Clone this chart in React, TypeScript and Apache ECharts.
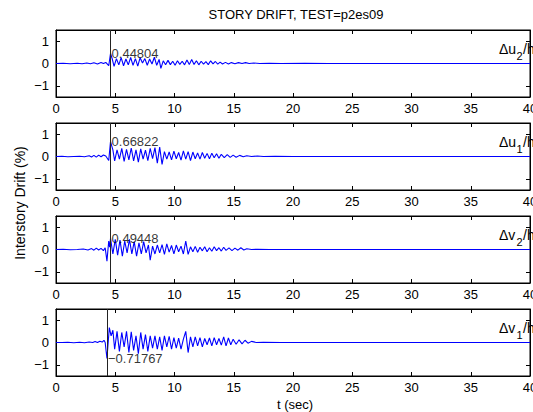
import React, { useEffect, useRef } from 'react';
import * as echarts from 'echarts';

// Story drift time histories [t (sec), drift (%)]
const driftU2: [number, number][] = [
  [0, 0], [0.6, 0.01], [1.2, -0.01], [1.8, 0.01], [2.2, -0.01], [2.6, 0.02], [2.9, -0.01], [3.2, 0.03],
  [3.5, -0.02], [3.8, 0.05], [4.0, 0.0], [4.2, 0.05], [4.45, -0.1], [4.6, 0.44804], [4.75, 0.2], [4.9, -0.13],
  [5.1, 0.22], [5.3, -0.06], [5.5, 0.26], [5.7, -0.1], [5.9, 0.2], [6.1, -0.06], [6.3, 0.27], [6.5, -0.08],
  [6.7, 0.22], [6.9, -0.12], [7.1, 0.26], [7.3, 0.02], [7.5, 0.22], [7.7, -0.08], [7.9, 0.2], [8.1, -0.02],
  [8.3, 0.28], [8.5, -0.08], [8.7, 0.18], [8.85, -0.22], [9.05, 0.12], [9.25, -0.06], [9.45, 0.14], [9.65, -0.05],
  [9.85, 0.1], [10.05, -0.08], [10.25, 0.12], [10.45, -0.04], [10.65, 0.1], [10.85, -0.06], [11.05, 0.16],
  [11.25, -0.05], [11.45, 0.18], [11.65, -0.04], [11.85, 0.12], [12.05, -0.06], [12.25, 0.1], [12.45, -0.03],
  [12.65, 0.08], [12.85, -0.05], [13.05, 0.12], [13.25, -0.02], [13.45, 0.09], [13.65, -0.03], [13.85, 0.06],
  [14.05, -0.02], [14.3, 0.05], [14.55, -0.02], [14.8, 0.04], [15.1, -0.01], [15.4, 0.04], [15.7, 0.0],
  [16.0, 0.04], [16.3, 0.0], [16.7, 0.02], [17.2, 0], [18, 0.01], [19, 0], [21, 0.01], [23, 0], [40, 0],
];

const driftU1: [number, number][] = [
  [0, 0], [0.5, 0.01], [1.0, -0.01], [1.5, 0.0], [2.0, 0.01], [2.4, -0.01], [2.8, 0.03], [3.0, -0.02],
  [3.2, 0.05], [3.4, -0.03], [3.6, 0.06], [3.8, -0.01], [4.0, 0.07], [4.2, 0.02], [4.45, -0.18], [4.6, 0.66822],
  [4.8, 0.3], [4.95, -0.2], [5.15, 0.3], [5.35, -0.12], [5.55, 0.36], [5.75, -0.22], [5.95, 0.32], [6.15, -0.15],
  [6.35, 0.38], [6.55, -0.2], [6.75, 0.3], [6.95, -0.25], [7.15, 0.34], [7.35, -0.12], [7.55, 0.28], [7.75, -0.18],
  [7.95, 0.36], [8.15, -0.1], [8.35, 0.4], [8.55, -0.3], [8.75, 0.42], [8.95, -0.35], [9.15, 0.22], [9.35, -0.12],
  [9.55, 0.2], [9.75, -0.15], [9.95, 0.24], [10.15, -0.1], [10.35, 0.18], [10.55, -0.16], [10.75, 0.25],
  [10.95, -0.12], [11.15, 0.22], [11.35, -0.18], [11.55, 0.2], [11.75, -0.1], [11.95, 0.16], [12.15, -0.12],
  [12.35, 0.18], [12.55, -0.08], [12.75, 0.14], [12.95, -0.1], [13.15, 0.15], [13.35, -0.06], [13.55, 0.12],
  [13.75, -0.08], [13.95, 0.1], [14.2, -0.05], [14.45, 0.08], [14.7, -0.04], [14.95, 0.06], [15.2, -0.03],
  [15.5, 0.05], [15.8, -0.01], [16.1, 0.03], [16.5, 0.0], [17, 0.02], [17.5, 0.0], [18.5, 0.01], [20, 0], [40, 0],
];

const driftV2: [number, number][] = [
  [0, 0], [0.6, 0.01], [1.2, -0.01], [1.8, 0.0], [2.3, 0.02], [2.7, -0.02], [3.0, 0.04], [3.2, -0.03],
  [3.4, 0.06], [3.6, -0.02], [3.8, 0.05], [4.0, -0.05], [4.15, 0.08], [4.3, -0.52], [4.45, 0.38], [4.53, 0.1],
  [4.6, 0.49448], [4.8, -0.2], [5.0, 0.45], [5.2, -0.25], [5.4, 0.42], [5.6, -0.3], [5.8, 0.38], [6.0, -0.15],
  [6.2, 0.45], [6.4, -0.2], [6.6, 0.35], [6.8, -0.3], [7.0, 0.3], [7.2, -0.2], [7.4, 0.35], [7.6, -0.15],
  [7.8, 0.2], [7.95, -0.48], [8.15, 0.15], [8.35, -0.2], [8.55, 0.2], [8.75, -0.15], [8.95, 0.22], [9.15, -0.22],
  [9.35, 0.25], [9.55, -0.12], [9.75, 0.18], [9.95, -0.2], [10.15, 0.2], [10.35, -0.1], [10.55, 0.15],
  [10.75, -0.2], [10.95, 0.38], [11.15, -0.22], [11.35, 0.12], [11.55, -0.1], [11.75, 0.14], [11.95, -0.12],
  [12.15, 0.1], [12.35, -0.06], [12.55, 0.12], [12.75, -0.1], [12.95, 0.08], [13.15, -0.08], [13.35, 0.12],
  [13.55, -0.05], [13.75, 0.08], [13.95, -0.07], [14.15, 0.1], [14.35, -0.04], [14.6, 0.07], [14.85, -0.05],
  [15.1, 0.06], [15.35, -0.03], [15.6, 0.08], [15.85, -0.02], [16.1, 0.03], [16.5, 0.0], [17, 0.01], [18, 0], [40, 0],
];

const driftV1: [number, number][] = [
  [0, 0], [0.5, 0.0], [1.0, 0.01], [1.5, -0.01], [2.0, 0.01], [2.4, -0.01], [2.8, 0.02], [3.1, 0.0],
  [3.3, 0.05], [3.5, 0.0], [3.7, 0.06], [3.9, 0.02], [4.05, 0.1], [4.15, 0.0], [4.3, -0.71767], [4.5, 0.67],
  [4.65, 0.3], [4.8, 0.55], [4.95, -0.3], [5.15, 0.5], [5.35, -0.4], [5.55, 0.45], [5.75, -0.2], [5.95, 0.5],
  [6.15, -0.45], [6.35, 0.48], [6.55, -0.35], [6.75, 0.3], [6.95, -0.5], [7.15, 0.45], [7.35, -0.3], [7.55, 0.35],
  [7.75, -0.4], [7.95, 0.3], [8.15, -0.25], [8.35, 0.3], [8.55, -0.3], [8.75, 0.25], [8.95, -0.35], [9.15, 0.3],
  [9.35, -0.2], [9.55, 0.28], [9.75, -0.3], [9.95, 0.22], [10.15, -0.25], [10.35, 0.2], [10.55, -0.3],
  [10.75, 0.15], [10.95, 0.5], [11.15, -0.45], [11.35, 0.25], [11.55, -0.2], [11.75, 0.25], [11.95, -0.15],
  [12.15, 0.22], [12.35, -0.2], [12.55, 0.18], [12.75, -0.1], [12.95, 0.2], [13.15, -0.15], [13.35, 0.22],
  [13.55, -0.1], [13.75, 0.18], [13.95, -0.12], [14.15, 0.25], [14.35, -0.15], [14.55, 0.2], [14.75, -0.1],
  [14.95, 0.15], [15.2, -0.08], [15.45, 0.12], [15.7, -0.06], [15.95, 0.1], [16.2, -0.03], [16.5, 0.05],
  [16.9, 0.0], [17.5, 0.01], [19, 0], [40, 0],
];

const traces = [driftU2, driftU1, driftV2, driftV1];
const peakTimes = [4.6, 4.6, 4.6, 4.3];
const peakValues = [0.44804, 0.66822, 0.49448, -0.71767];
const peakLabels = ['0.44804', '0.66822', '0.49448', '\u22120.71767'];
const traceLetters = ['u', 'u', 'v', 'v'];
const traceSubs = ['2', '1', '2', '1'];
const xTicks = [0, 5, 10, 15, 20, 25, 30, 35, 40];
const yTicks = [-1, 0, 1];
const titleText = 'STORY DRIFT, TEST=p2es09';
const yLabelText = 'Interstory Drift (%)';
const xLabelText = 't (sec)';

const FONT = '"Liberation Sans", Arial, Helvetica, sans-serif';
const GRID_TOPS = [30, 123, 216, 309];
const GRID_H = 67;
const GRID_LEFT = 56;
const GRID_RIGHT = 3;

export default function App() {
  const ref = useRef<HTMLDivElement>(null);

  useEffect(() => {
    document.body.style.margin = '0';
    if (!ref.current) return;
    const chart = echarts.init(ref.current, null, { renderer: 'svg' });

    const fmtY = (v: number) => (v < 0 ? '\u2212' + Math.abs(v) : String(v));

    const grids = GRID_TOPS.map((top) => ({
      left: GRID_LEFT,
      right: GRID_RIGHT,
      top,
      height: GRID_H,
      show: true,
      borderColor: '#000',
      borderWidth: 1,
      containLabel: false,
      outerBoundsMode: 'none',
    }));

    const xAxes: any[] = [];
    const yAxes: any[] = [];
    GRID_TOPS.forEach((_, i) => {
      const baseX = {
        gridIndex: i,
        type: 'value',
        min: xTicks[0],
        max: xTicks[xTicks.length - 1],
        interval: 5,
        axisLine: { show: true, onZero: false, lineStyle: { color: '#000', width: 1 } },
        axisTick: { show: true, inside: true, length: 4, lineStyle: { color: '#000' } },
        splitLine: { show: false },
      };
      xAxes.push({
        ...baseX,
        position: 'bottom',
        axisLabel: { show: true, color: '#000', fontSize: 13, fontFamily: FONT, margin: 5, hideOverlap: false },
      });
      xAxes.push({ ...baseX, position: 'top', axisLabel: { show: false } });

      const baseY = {
        gridIndex: i,
        type: 'value',
        min: -1.5,
        max: 1.5,
        axisLine: { show: true, onZero: false, lineStyle: { color: '#000', width: 1 } },
        axisTick: { show: true, inside: true, length: 4, customValues: yTicks, lineStyle: { color: '#000' } },
        splitLine: { show: false },
      };
      yAxes.push({
        ...baseY,
        position: 'left',
        axisLabel: {
          show: true,
          customValues: yTicks,
          formatter: fmtY,
          color: '#000',
          fontSize: 13,
          fontFamily: FONT,
          margin: 7,
        },
      });
      yAxes.push({ ...baseY, position: 'right', axisLabel: { show: false } });
    });

    const series: any[] = [];
    traces.forEach((data, i) => {
      series.push({
        type: 'line',
        xAxisIndex: 2 * i,
        yAxisIndex: 2 * i,
        data,
        showSymbol: false,
        symbol: 'none',
        lineStyle: { color: '#0000ff', width: 1.1 },
        silent: true,
        z: 3,
        markLine: {
          silent: true,
          symbol: 'none',
          label: { show: false },
          lineStyle: { color: '#222', width: 1, type: 'solid' },
          data: [{ xAxis: peakTimes[i] }],
        },
      });
      series.push({
        type: 'scatter',
        xAxisIndex: 2 * i,
        yAxisIndex: 2 * i,
        data: [[peakTimes[i], peakValues[i]]],
        symbolSize: 0.1,
        itemStyle: { color: 'transparent' },
        silent: true,
        z: 5,
        label: {
          show: true,
          position: 'right',
          distance: 1,
          formatter: peakLabels[i],
          color: '#000',
          fontSize: 13,
          fontFamily: FONT,
        },
      });
    });

    const graphics: any[] = [
      {
        type: 'text',
        x: 296,
        y: 14,
        style: {
          text: titleText,
          fill: '#000',
          font: `13px ${FONT}`,
          align: 'center',
          verticalAlign: 'middle',
        },
      },
      {
        type: 'text',
        x: 20,
        y: 203,
        rotation: Math.PI / 2,
        style: {
          text: yLabelText,
          fill: '#000',
          font: `14px ${FONT}`,
          align: 'center',
          verticalAlign: 'middle',
        },
      },
      {
        type: 'text',
        x: 295,
        y: 404,
        style: {
          text: xLabelText,
          fill: '#000',
          font: `13px ${FONT}`,
          align: 'center',
          verticalAlign: 'middle',
        },
      },
    ];
    GRID_TOPS.forEach((top, i) => {
      graphics.push({
        type: 'text',
        x: 499,
        y: top + 19,
        z: 10,
        style: {
          text: '\u0394' + traceLetters[i],
          fill: '#000',
          font: `14px ${FONT}`,
          align: 'left',
          verticalAlign: 'middle',
        },
      });
      graphics.push({
        type: 'text',
        x: 516.5,
        y: top + 26,
        z: 10,
        style: {
          text: traceSubs[i],
          fill: '#000',
          font: `11px ${FONT}`,
          align: 'left',
          verticalAlign: 'middle',
        },
      });
      graphics.push({
        type: 'text',
        x: 523,
        y: top + 19,
        z: 10,
        style: {
          text: '/h',
          fill: '#000',
          font: `14px ${FONT}`,
          align: 'left',
          verticalAlign: 'middle',
        },
      });
    });

    chart.setOption({
      animation: false,
      backgroundColor: '#fff',
      grid: grids,
      xAxis: xAxes,
      yAxis: yAxes,
      series,
      graphic: graphics,
    });

    return () => chart.dispose();
  }, []);

  return <div ref={ref} style={{ width: 533, height: 412 }} />;
}
